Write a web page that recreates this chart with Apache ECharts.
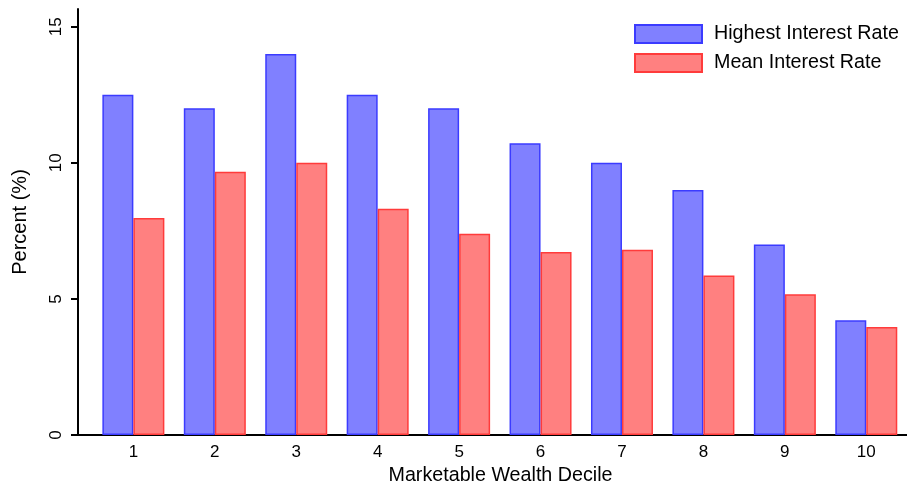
<!DOCTYPE html>
<html>
<head>
<meta charset="utf-8">
<script src="https://cdn.jsdelivr.net/npm/echarts@6/dist/echarts.min.js"></script>
<style>
html,body{margin:0;padding:0;background:#fff;}
#chart{width:907px;height:487px;}
</style>
</head>
<body>
<div id="chart"></div>
<script>
const deciles = [1, 2, 3, 4, 5, 6, 7, 8, 9, 10];
const highestRate = [12.5, 12.0, 14.0, 12.5, 12.0, 10.72, 10.0, 9.0, 7.0, 4.22];
const meanRate = [7.97, 9.67, 10.0, 8.31, 7.39, 6.72, 6.81, 5.86, 5.17, 3.97];
const yTicks = [0, 5, 10, 15];
const seriesNames = ['Highest Interest Rate', 'Mean Interest Rate'];

const FONT = '"Liberation Sans", Arial, Helvetica, sans-serif';
const chart = echarts.init(document.getElementById('chart'), null, {renderer: 'canvas'});
chart.setOption({
  animation: false,
  backgroundColor: '#ffffff',
  textStyle: {fontFamily: FONT, color: '#000'},
  grid: {left: 78, right: 0, top: 9, bottom: 52, containLabel: false, outerBoundsMode: 'none'},
  legend: {
    orient: 'vertical',
    left: 634,
    top: 24,
    padding: 0,
    itemWidth: 67,
    itemHeight: 18,
    itemGap: 9,
    icon: 'rect',
    textStyle: {fontFamily: FONT, fontSize: 19.7, color: '#000', lineHeight: 18, padding: [0, 0, 0, 7]},
    data: seriesNames
  },
  xAxis: {
    type: 'value',
    min: 0.32,
    max: 10.5,
    name: 'Marketable Wealth Decile',
    nameLocation: 'middle',
    nameGap: 27,
    nameTextStyle: {fontFamily: FONT, fontSize: 19.7, color: '#000', padding: [0, 0, 0, 16]},
    splitLine: {show: false},
    axisLine: {show: true, lineStyle: {color: '#000', width: 2}},
    axisTick: {show: false},
    axisLabel: {customValues: deciles, fontFamily: FONT, fontSize: 17, color: '#000', margin: 9}
  },
  yAxis: {
    type: 'value',
    min: 0,
    max: 15.65,
    name: 'Percent (%)',
    nameLocation: 'middle',
    nameRotate: 90,
    nameGap: 48,
    nameTextStyle: {fontFamily: FONT, fontSize: 20, color: '#000'},
    splitLine: {show: false},
    axisLine: {show: true, lineStyle: {color: '#000', width: 2}},
    axisTick: {show: true, length: 7, lineStyle: {color: '#000', width: 2}, customValues: yTicks},
    axisLabel: {customValues: yTicks, rotate: 90, fontFamily: FONT, fontSize: 17, color: '#000', margin: 13}
  },
  series: [
    {
      name: seriesNames[0],
      type: 'bar',
      barWidth: 31,
      barGap: '0%',
      itemStyle: {color: '#8080ff', borderColor: '#3b3bff', borderWidth: 1.5},
      data: deciles.map((d, i) => [d, highestRate[i]])
    },
    {
      name: seriesNames[1],
      type: 'bar',
      barWidth: 31,
      barGap: '0%',
      itemStyle: {color: '#ff8080', borderColor: '#ff3b3b', borderWidth: 1.5},
      data: deciles.map((d, i) => [d, meanRate[i]])
    }
  ]
});
</script>
</body>
</html>
